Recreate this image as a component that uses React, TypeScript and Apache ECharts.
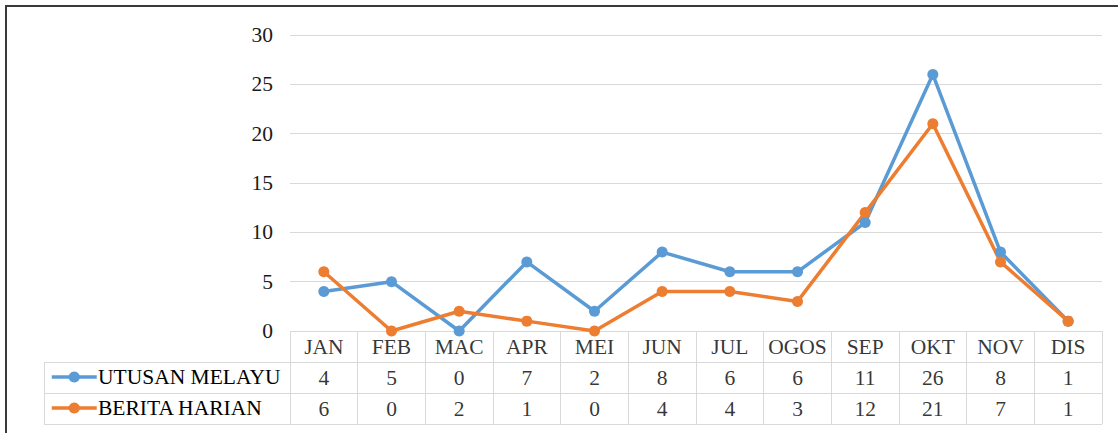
import React, { useEffect, useRef } from "react";
import * as echarts from "echarts";

const months = ["JAN", "FEB", "MAC", "APR", "MEI", "JUN", "JUL", "OGOS", "SEP", "OKT", "NOV", "DIS"];
const utusanMelayu = [4, 5, 0, 7, 2, 8, 6, 6, 11, 26, 8, 1];
const beritaHarian = [6, 0, 2, 1, 0, 4, 4, 3, 12, 21, 7, 1];
const seriesNames = ["UTUSAN MELAYU", "BERITA HARIAN"];
const yMin = 0;
const yMax = 30;
const yInterval = 5;

const FONT = "'Liberation Serif', 'Times New Roman', serif";
const FS = 21.5;
const BLUE = "#5B9BD5";
const ORANGE = "#ED7D31";
const GRID_GREY = "#d9d9d9";

export default function App() {
  const ref = useRef<HTMLDivElement>(null);

  useEffect(() => {
    document.body.style.margin = "0";
    if (!ref.current) return;
    const chart = echarts.init(ref.current, undefined, { renderer: "svg" });

    const tableData: any[] = [];
    months.forEach((m, i) => tableData.push([i, 2.5, m]));
    utusanMelayu.forEach((v, i) => tableData.push([i, 1.5, String(v)]));
    beritaHarian.forEach((v, i) => tableData.push([i, 0.5, String(v)]));

    const leftX = 44;
    const tableRight = 290;
    const rowLines = [362, 393, 424];
    const rowCenters = [377, 408];

    const legendBase = (name: string, centerY: number) => ({
      data: [name],
      left: 50,
      top: centerY - 7,
      padding: 0,
      itemWidth: 45,
      itemHeight: 14,
      itemGap: 0,
      lineStyle: { width: 3.5 },
      formatter: () => "",
      textStyle: { fontSize: 1 },
    });

    chart.setOption({
      animation: false,
      backgroundColor: "#ffffff",
      textStyle: { fontFamily: FONT },
      grid: [
        { left: 290, right: 16, top: 35, bottom: 102 },
        { left: 290, right: 16, top: 331, height: 93 },
      ],
      legend: [legendBase(seriesNames[0], rowCenters[0]), legendBase(seriesNames[1], rowCenters[1])],
      xAxis: [
        {
          type: "category",
          gridIndex: 0,
          data: months,
          boundaryGap: true,
          axisLine: { show: false },
          axisTick: { show: false },
          axisLabel: { show: false },
          splitLine: { show: false },
        },
        {
          type: "category",
          gridIndex: 1,
          data: months,
          boundaryGap: true,
          axisLine: { show: false },
          axisTick: { show: false },
          axisLabel: { show: false },
          splitLine: { show: true, lineStyle: { color: GRID_GREY, width: 1 } },
        },
      ],
      yAxis: [
        {
          type: "value",
          gridIndex: 0,
          min: yMin,
          max: yMax,
          interval: yInterval,
          axisLine: { show: false },
          axisTick: { show: false },
          axisLabel: { fontFamily: FONT, fontSize: FS, color: "#1a1a1a", margin: 17 },
          splitLine: { show: true, lineStyle: { color: GRID_GREY, width: 1 } },
        },
        {
          type: "value",
          gridIndex: 1,
          min: 0,
          max: 3,
          interval: 1,
          axisLine: { show: false },
          axisTick: { show: false },
          axisLabel: { show: false },
          splitLine: { show: true, lineStyle: { color: GRID_GREY, width: 1 } },
        },
      ],
      series: [
        {
          name: seriesNames[0],
          type: "line",
          xAxisIndex: 0,
          yAxisIndex: 0,
          data: utusanMelayu,
          symbol: "circle",
          symbolSize: 11,
          lineStyle: { color: BLUE, width: 3.5 },
          itemStyle: { color: BLUE },
        },
        {
          name: seriesNames[1],
          type: "line",
          xAxisIndex: 0,
          yAxisIndex: 0,
          data: beritaHarian,
          symbol: "circle",
          symbolSize: 11,
          lineStyle: { color: ORANGE, width: 3.5 },
          itemStyle: { color: ORANGE },
        },
        {
          type: "scatter",
          xAxisIndex: 1,
          yAxisIndex: 1,
          data: tableData,
          symbol: "circle",
          symbolSize: 1,
          silent: true,
          itemStyle: { color: "transparent" },
          label: {
            show: true,
            position: "inside",
            formatter: (p: any) => p.value[2],
            fontFamily: FONT,
            fontSize: FS,
            color: "#000",
          },
        },
      ],
      graphic: [
        {
          type: "rect",
          shape: { x: 6, y: 6, width: 1300, height: 600 },
          style: { fill: "none", stroke: "#3a3a3a", lineWidth: 2 },
          silent: true,
        },
        ...rowLines.map((y) => ({
          type: "line",
          shape: { x1: leftX, y1: y + 0.5, x2: tableRight, y2: y + 0.5 },
          style: { stroke: GRID_GREY, lineWidth: 1 },
          silent: true,
        })),
        {
          type: "line",
          shape: { x1: leftX + 0.5, y1: rowLines[0] + 0.5, x2: leftX + 0.5, y2: rowLines[2] + 0.5 },
          style: { stroke: GRID_GREY, lineWidth: 1 },
          silent: true,
        },
        ...seriesNames.map((n, i) => ({
          type: "text",
          x: 98,
          y: rowCenters[i],
          silent: true,
          style: {
            text: n,
            font: `${FS}px 'Liberation Serif', 'Times New Roman', serif`,
            fill: "#000",
            align: "left",
            verticalAlign: "middle",
          },
        })),
      ],
    });

    return () => chart.dispose();
  }, []);

  return <div ref={ref} style={{ width: 1118, height: 433 }} />;
}
